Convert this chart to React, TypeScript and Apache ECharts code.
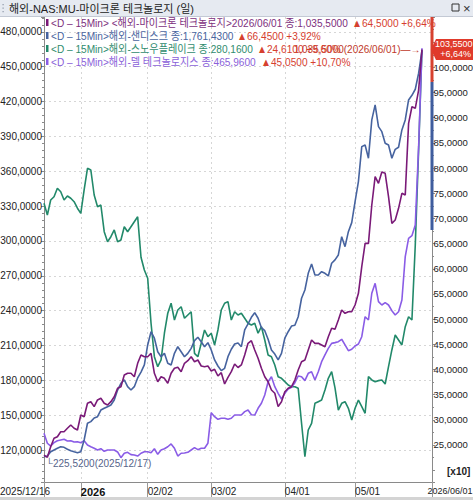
import React, { useEffect, useRef } from "react";
import * as echarts from "echarts";

// ---- categories (trading days) ----
const MONTH_DAYS: [string, number[]][] = [
  ["2025/12", [16, 17, 18, 19, 22, 23, 24, 26, 29, 30, 31]],
  ["2026/01", [2, 5, 6, 7, 8, 9, 12, 13, 14, 15, 16, 20, 21, 22, 23, 26, 27, 28, 29, 30]],
  ["2026/02", [2, 3, 4, 5, 6, 9, 10, 11, 12, 13, 17, 18, 19, 20, 23, 24, 25, 26, 27]],
  ["2026/03", [2, 3, 4, 5, 6, 9, 10, 11, 12, 13, 16, 17, 18, 19, 20, 23, 24, 25, 26, 27, 30, 31]],
  ["2026/04", [1, 2, 6, 7, 8, 9, 10, 13, 14, 15, 16, 17, 20, 21, 22, 23, 24, 27, 28, 29, 30]],
  ["2026/05", [1, 4, 5, 6, 7, 8, 11, 12, 13, 14, 15, 18, 19, 20, 21, 22, 26, 27, 28, 29]],
  ["2026/06", [1]],
];
const PAD_DATES = ["2026/06/02", "2026/06/03", "2026/06/04"];
const DATES: string[] = MONTH_DAYS.flatMap(([m, ds]) => ds.map((d) => `${m}/${String(d).padStart(2, "0")}`));
const CATEGORIES = [...DATES, ...PAD_DATES];

const TICK_DATES = ["2025/12/16", "2026/01/02", "2026/02/02", "2026/03/02", "2026/04/01", "2026/05/01", "2026/06/04"];
const TICK_TEXT = ["2025/12/16", "2026", "02/02", "03/02", "04/01", "05/01", "2026/06/01"];

// ---- series values ----
// Micron (right axis, x10)
const MICRON = [
  23.0, 22.55, 24.66, 26.33, 26.65, 27.64, 27.64, 28.32, 28.97, 28.32,
  27.98, 30.96, 30.62, 33.28, 33.6, 32.61, 33.94, 34.27, 33.28, 32.94,
  33.6, 34.59, 36.26, 36.58, 38.9, 39.24, 39.24, 38.56, 41.22, 42.87,
  42.53, 42.53, 43.21, 39.24, 37.57, 38.56, 38.24, 37.25, 39.24, 40.23,
  40.43, 39.56, 41.22, 41.74, 42.53, 41.54, 41.88, 40.69, 40.55, 40.69,
  39.69, 40.03, 38.7, 39.36, 37.11, 38.44, 39.56, 41.08, 40.39, 40.89,
  42.87, 45.19, 45.71, 43.86, 42.22, 40.23, 38.56, 37.57, 35.92, 35.27,
  32.61, 33.6, 35.58, 36.26, 36.58, 37.91, 39.89, 41.54, 41.88, 43.86,
  45.85, 45.19, 45.19, 44.86, 44.52, 46.51, 48.17, 47.97, 49.82, 51.81,
  51.15, 51.47, 51.47, 52.8, 55.12, 60.41, 65.05, 65.05, 72.66, 78.28,
  76.97, 79.21, 78.95, 74.31, 69.02, 69.68, 72.0, 74.98, 74.64, 88.88,
  92.18, 91.86, 95.49, 103.55,
];
// Sandisk (left axis)
const SANDISK = [
  114.3, 114.9, 118.6, 120.1, 121.6, 122.9, 122.4, 120.7, 119.5, 118.6,
  117.8, 118.6, 128.7, 143.1, 144.5, 147.6, 148.8, 154.5, 156.0, 157.4,
  158.8, 163.1, 171.7, 177.5, 180.4, 174.6, 171.7, 174.6, 182.1, 187.2,
  193.3, 210.5, 221.9, 216.3, 204.7, 200.4, 203.3, 194.7, 193.3, 203.3,
  209.0, 204.7, 200.4, 203.3, 207.6, 214.2, 217.1, 213.3, 209.0, 212.5,
  206.2, 197.6, 192.4, 188.4, 190.4, 200.4, 206.8, 211.3, 212.2, 209.0,
  223.4, 228.6, 234.3, 238.3, 233.5, 225.4, 222.8, 215.4, 206.2, 202.7,
  197.6, 203.3, 216.3, 221.9, 226.8, 227.4, 234.8, 250.7, 257.8, 272.2,
  280.2, 270.7, 270.7, 273.6, 272.2, 269.9, 280.8, 283.7, 288.0, 303.7,
  295.1, 308.0, 315.8, 333.8, 351.1, 381.2, 382.6, 371.2, 404.2, 417.1,
  398.4, 394.1, 384.1, 382.6, 371.2, 378.9, 380.7, 395.6, 404.2, 421.4,
  425.4, 430.6, 444.4, 463.8,
];
// Snowflake (left axis)
const SNOWFLAKE = [
  332.5, 322.4, 335.3, 338.1, 345.4, 342.4, 335.3, 338.7, 336.8, 333.8,
  328.2, 323.8, 343.9, 362.6, 361.1, 339.6, 329.5, 331.0, 308.0, 299.4,
  303.7, 309.5, 299.4, 300.9, 312.3, 308.0, 312.3, 316.6, 320.9, 286.0,
  275.0, 267.9, 229.2, 200.4, 191.8, 197.6, 220.6, 237.8, 246.4, 232.0,
  240.6, 243.4, 233.5, 236.3, 239.1, 203.3, 200.4, 211.9, 223.4, 217.6,
  220.6, 210.5, 223.4, 240.6, 246.4, 247.8, 232.0, 239.1, 236.3, 237.8,
  233.5, 229.2, 227.7, 229.2, 220.6, 226.2, 214.8, 201.9, 200.4, 193.3,
  183.2, 181.8, 178.9, 176.0, 174.6, 174.6, 173.2, 143.1, 114.3, 137.3,
  143.1, 160.3, 161.7, 163.1, 171.7, 181.8, 187.5, 173.5, 154.5, 160.3,
  161.7, 156.0, 145.9, 156.0, 163.1, 157.4, 151.7, 183.2, 180.4, 178.9,
  179.8, 180.4, 176.9, 191.8, 206.2, 219.1, 214.8, 210.5, 226.2, 234.8,
  232.0, 296.6, 378.3, 464.4,
];
// Dell (left axis)
const DELL = [
  134.5, 125.9, 123.5, 126.4, 128.1, 128.7, 129.3, 127.8, 128.1, 127.0,
  127.2, 126.4, 128.1, 124.4, 122.9, 121.6, 120.1, 121.2, 119.0, 120.1,
  120.1, 120.1, 118.4, 113.5, 117.3, 118.1, 116.1, 115.8, 114.9, 117.3,
  118.6, 118.6, 117.8, 121.2, 116.4, 120.1, 121.2, 122.9, 125.3, 121.6,
  114.9, 117.3, 117.5, 118.1, 120.1, 122.1, 120.4, 121.6, 121.6, 125.9,
  152.2, 148.8, 146.5, 147.4, 147.4, 146.5, 147.4, 150.2, 150.2, 150.2,
  153.1, 154.5, 150.5, 150.2, 156.0, 160.3, 167.4, 178.9, 183.2, 174.6,
  168.9, 164.0, 168.9, 172.6, 174.1, 178.0, 183.8, 183.2, 179.8, 186.1,
  187.5, 180.4, 187.5, 196.1, 201.9, 207.6, 211.9, 212.5, 213.3, 215.4,
  210.5, 205.6, 206.8, 209.6, 211.3, 217.6, 234.8, 232.0, 255.0, 263.6,
  247.8, 244.9, 246.9, 244.9, 240.0, 236.3, 239.1, 249.2, 286.5, 302.3,
  304.6, 313.8, 381.2, 465.96,
];

// right-axis range bars [x category, from, to]
const RANGE_BARS = [
  ["2026/06/04", 97.1, 110],
  ["2026/06/04", 67.7, 97.1],
];
const PRICE_TAG = [["2026/06/04", 103.55]];
const PRICE_TAG_TEXT = ["103,5500", "+6,64%"];

const LEGEND_MAIN = [
  "<D – 15Min> <해외-마이크론 테크놀로지>2026/06/01 종:1,035,5000",
  "<D – 15Min>해외-샌디스크 종:1,761,4300",
  "<D – 15Min>해외-스노우플레이크 종:280,1600",
  "<D – 15Min>해외-델 테크놀로지스 종:465,9600",
];
const LEGEND_CHANGE = ["▲64,5000 +6,64%", "▲66,4500 +3,92%", "▲24,6100 +9,60%", "▲45,0500 +10,70%"];

const C_MU = "#7a1a78";
const C_SN = "#46639f";
const C_SF = "#22896a";
const C_DL = "#8a5ce6";
const C_RED = "#d6402f";
const LINE_COLORS = [C_MU, C_SN, C_SF, C_DL];
const TEXT_COLORS = ["#7d2f7d", "#4a65a0", "#2f8c6e", "#8a5fd9"];

const SANS = "'Liberation Sans','Noto Sans CJK KR',sans-serif";

export default function App() {
  const ref = useRef<HTMLDivElement>(null);
  useEffect(() => {
    if (!ref.current) return;
    const chart = echarts.init(ref.current, undefined, { renderer: "svg" });
    const isTickCat = (_i: number, v: string) => TICK_DATES.includes(v);
    const isInnerTick = (_i: number, v: string) => {
      const k = TICK_DATES.indexOf(v);
      return k > 0 && k < TICK_DATES.length - 1;
    };
    const legendRows = [22.5, 35.5, 48.5, 61.5];
    const changeX = [352, 237, 257, 261];
    const graphics: any[] = [
      { type: "rect", shape: { x: 0, y: 0, width: 473, height: 16 }, style: { fill: "#e6eaf1" }, z: 100 },
      { type: "line", shape: { x1: 0, y1: 16.5, x2: 473, y2: 16.5 }, style: { stroke: "#c3c9d4", lineWidth: 1 }, z: 100 },
      { type: "rect", shape: { x: 2.5, y: 4, width: 1.2, height: 1.2 }, style: { fill: "#8d97a8" }, z: 101 },
      { type: "rect", shape: { x: 2.5, y: 7.5, width: 1.2, height: 1.2 }, style: { fill: "#8d97a8" }, z: 101 },
      { type: "rect", shape: { x: 2.5, y: 11, width: 1.2, height: 1.2 }, style: { fill: "#8d97a8" }, z: 101 },
      { type: "text", x: 9, y: 8.5, style: { text: "해외-NAS:MU-마이크론 테크놀로지 (일)", fill: "#222", fontSize: 11, fontFamily: SANS, verticalAlign: "middle" }, z: 101 },
      { type: "rect", shape: { x: 452, y: 4, width: 7, height: 7 }, style: { fill: "none", stroke: "#333", lineWidth: 1 }, z: 101 },
      { type: "text", x: 463, y: 8, style: { text: "×", fill: "#333", fontSize: 13, fontFamily: SANS, verticalAlign: "middle" }, z: 101 },
      { type: "text", x: 447, y: 471, style: { text: "[x10]", fill: "#222", fontSize: 10, fontWeight: "bold", fontFamily: SANS, verticalAlign: "middle" }, z: 50 },
      { type: "text", x: 0, y: 491, style: { text: TICK_TEXT[0], fill: "#222", fontSize: 10, fontFamily: SANS, verticalAlign: "middle" }, z: 50 },
      { type: "text", x: 472.5, y: 491, style: { text: TICK_TEXT[TICK_TEXT.length - 1], fill: "#222", fontSize: 9, fontFamily: SANS, verticalAlign: "middle", align: "right" }, z: 50 },
      { type: "rect", shape: { x: 0, y: 497, width: 473, height: 3 }, style: { fill: "#d4d4d4" }, z: 50 },
    ];
    legendRows.forEach((y, i) => {
      graphics.push({ type: "rect", shape: { x: 46, y: y - 3.5, width: 2.5, height: 7 }, style: { fill: LINE_COLORS[i] }, z: 60 });
      graphics.push({ type: "text", x: 51, y, scaleX: 0.92, style: { text: LEGEND_MAIN[i], fill: TEXT_COLORS[i], fontSize: 11, fontFamily: SANS, verticalAlign: "middle" }, z: 60 });
      graphics.push({ type: "text", x: changeX[i], y, scaleX: 0.92, style: { text: LEGEND_CHANGE[i], fill: C_RED, fontSize: 11, fontFamily: SANS, verticalAlign: "middle" }, z: 60 });
    });

    const lineSeries = (name: string, data: number[], color: string, yAxisIndex: number, z: number) => ({
      type: "line",
      name,
      data,
      yAxisIndex,
      symbol: "none",
      showSymbol: false,
      z,
      lineStyle: { color, width: 1.6 },
      itemStyle: { color },
      emphasis: { disabled: true },
    });

    const mu: any = lineSeries("Micron", MICRON, C_MU, 1, 5);
    mu.markPoint = {
      symbol: "circle",
      symbolSize: 1,
      itemStyle: { color: "rgba(0,0,0,0)" },
      silent: true,
      data: [
        {
          coord: [DATES[1], MICRON[1]],
          label: {
            show: true,
            formatter: "└225,5200(2025/12/17)",
            position: [-1, 2],
            align: "left",
            verticalAlign: "top",
            color: "#56648a",
            fontSize: 10,
            fontFamily: SANS,
          },
        },
        {
          coord: [DATES[DATES.length - 1], MICRON[MICRON.length - 1]],
          label: {
            show: true,
            formatter: "1,035,5000(2026/06/01)—→",
            position: "left",
            distance: 1,
            color: "#c0392b",
            fontSize: 10,
            fontFamily: SANS,
          },
        },
      ],
    };

    chart.setOption({
      animation: false,
      backgroundColor: "#ffffff",
      grid: { left: 44, right: 41, top: 17, bottom: 18, containLabel: false, outerBoundsMode: "none" },
      xAxis: {
        type: "category",
        data: CATEGORIES,
        boundaryGap: false,
        axisLine: { show: true, lineStyle: { color: "#8a8a8a", width: 1 } },
        axisTick: { show: true, interval: isTickCat, length: 15, lineStyle: { color: "#9a9a9a" } },
        axisLabel: {
          show: true,
          interval: isTickCat,
          align: "left",
          margin: 4,
          fontSize: 10,
          fontFamily: SANS,
          color: "#222",
          formatter: (v: string) => {
            const k = TICK_DATES.indexOf(v);
            if (k <= 0 || k === TICK_DATES.length - 1) return "";
            return k === 1 ? `{b|${TICK_TEXT[k]}}` : TICK_TEXT[k];
          },
          rich: { b: { fontWeight: "bold", fontSize: 11, fontFamily: SANS, color: "#111" } },
        },
        splitLine: { show: true, interval: isInnerTick, lineStyle: { color: "#d6d6d6", type: [2, 3], width: 1 } },
      },
      yAxis: [
        {
          type: "value",
          position: "left",
          min: 92.55,
          max: 492.8,
          splitNumber: 13,
          axisLine: { show: true, lineStyle: { color: "#8a8a8a" } },
          axisTick: { show: true, length: 3, lineStyle: { color: "#8a8a8a" } },
          minorTick: { show: true, splitNumber: 5, length: 2, lineStyle: { color: "#8a8a8a" } },
          axisLabel: {
            margin: 2,
            fontSize: 10,
            fontFamily: SANS,
            color: "#222",
            formatter: (v: number) => {
              const r = Math.round(v / 30) * 30;
              if (Math.abs(v - r) > 1e-6 || r < 120 || r > 480) return "";
              return `${r},0000`;
            },
          },
          splitLine: { show: true, showMinLine: false, showMaxLine: false, lineStyle: { color: "#d6d6d6", type: [2, 3], width: 1 } },
        },
        {
          type: "value",
          position: "right",
          min: 17.65,
          max: 110,
          splitNumber: 18,
          axisLine: { show: true, lineStyle: { color: "#8a8a8a" } },
          axisTick: { show: true, length: 3, lineStyle: { color: "#8a8a8a" } },
          minorTick: { show: true, splitNumber: 2, length: 2, lineStyle: { color: "#8a8a8a" } },
          axisLabel: {
            margin: 1.5,
            fontSize: 9.5,
            fontFamily: SANS,
            color: "#222",
            formatter: (v: number) => {
              const r = Math.round(v / 5) * 5;
              if (Math.abs(v - r) > 1e-6 || r < 25 || r > 100) return "";
              return `${r},0000`;
            },
          },
          splitLine: { show: false },
        },
      ],
      series: [
        lineSeries("Snowflake", SNOWFLAKE, C_SF, 0, 2),
        lineSeries("Dell", DELL, C_DL, 0, 3),
        lineSeries("Sandisk", SANDISK, C_SN, 0, 4),
        mu,
        {
          type: "custom",
          name: "range",
          yAxisIndex: 1,
          clip: false,
          silent: true,
          z: 8,
          data: RANGE_BARS,
          renderItem: (params: any, api: any) => {
            const top = api.coord([api.value(0), api.value(2)]);
            const bot = api.coord([api.value(0), api.value(1)]);
            return {
              type: "rect",
              shape: { x: top[0] - 1.5, y: top[1], width: 3, height: bot[1] - top[1] },
              style: { fill: params.dataIndex === 0 ? "#d7412f" : "#3f5d9e" },
            };
          },
        },
        {
          type: "custom",
          name: "tag",
          yAxisIndex: 1,
          clip: false,
          silent: true,
          z: 9,
          data: PRICE_TAG,
          renderItem: (_params: any, api: any) => {
            const p = api.coord([api.value(0), api.value(1)]);
            const x0 = p[0];
            const y0 = p[1];
            return {
              type: "group",
              children: [
                {
                  type: "polygon",
                  shape: { points: [[x0 - 1, y0], [x0 + 4, y0 - 10.5], [480, y0 - 10.5], [480, y0 + 10.5], [x0 + 4, y0 + 10.5]] },
                  style: { fill: "#e03a2b" },
                },
                { type: "text", style: { text: PRICE_TAG_TEXT[0], x: 472.5, y: y0 - 5, align: "right", verticalAlign: "middle", fill: "#fff", fontSize: 9, fontFamily: SANS } },
                { type: "text", style: { text: PRICE_TAG_TEXT[1], x: 471, y: y0 + 5, align: "right", verticalAlign: "middle", fill: "#fff", fontSize: 9, fontFamily: SANS } },
              ],
            };
          },
        },
      ],
      graphic: graphics,
    });
    return () => chart.dispose();
  }, []);
  return <div ref={ref} style={{ position: "fixed", left: 0, top: 0, width: 473, height: 500 }} />;
}
